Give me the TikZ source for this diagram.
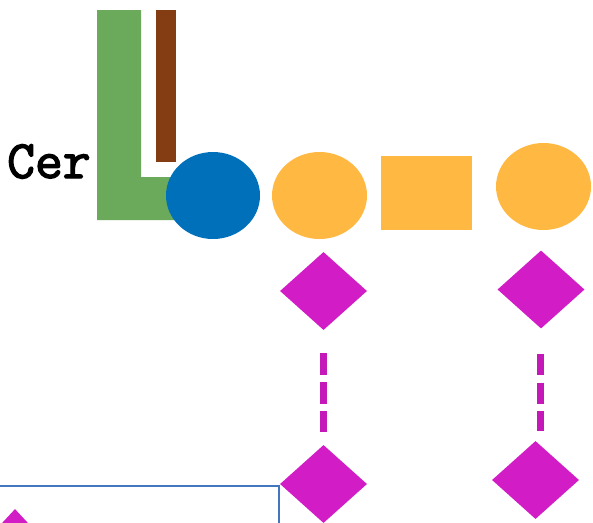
\documentclass[tikz,border=0pt]{standalone}
\usepackage{fontspec}
\newfontfamily\cerfont[FakeBold=2.6]{Latin Modern Mono}
\usetikzlibrary{shapes.geometric}
\definecolor{glcgreen}{RGB}{106,170,90}
\definecolor{glcbrown}{RGB}{132,60,18}
\definecolor{glcblue}{RGB}{0,112,186}
\definecolor{glcorange}{RGB}{255,185,66}
\definecolor{glcmagenta}{RGB}{210,28,198}
\definecolor{linkmagenta}{RGB}{196,24,184}
\definecolor{framblue}{RGB}{66,118,190}
\tikzset{
  sugar/.style={ellipse, fill=glcorange, draw=none, inner sep=0pt,
    minimum width=95pt, minimum height=87pt},
  hexnac/.style={rectangle, fill=glcorange, draw=none, inner sep=0pt,
    minimum width=91pt, minimum height=74pt},
  glc/.style={ellipse, fill=glcblue, draw=none, inner sep=0pt,
    minimum width=94pt, minimum height=87pt},
  sia/.style={diamond, fill=glcmagenta, draw=none, inner sep=0pt,
    minimum width=87pt, minimum height=78pt},
  link/.style={draw=linkmagenta, line width=7pt, line cap=butt,
    dash pattern=on 21.5pt off 7.3pt},
}
\begin{document}
\begin{tikzpicture}[x=1pt, y=-1pt]
\useasboundingbox (0,0) rectangle (593,522);
\clip (0,0) rectangle (593,522);

% ceramide tails
\fill[glcgreen] (97,10) -- (141,10) -- (141,177) -- (185,177) -- (185,220) -- (97,220) -- cycle;
\fill[glcbrown] (156,10) rectangle (176,162);
\node[anchor=base west, inner sep=0pt, font=\cerfont\fontsize{54}{54}\selectfont] (cer) at (7,178) {Cer};

% glycan chain
\node[glc] (glc) at (213,195.5) {};
\node[sugar] (gal1) at (319.5,195.5) {};
\node[hexnac] (nac) at (426.5,193) {};
\node[sugar] (gal2) at (543.5,186.5) {};

% sialic acids
\node[sia] (s1) at (323.5,291) {};
\node[sia] (s2) at (541,289.5) {};
\node[sia] (s3) at (323.5,484) {};
\node[sia] (s4) at (535.5,480) {};

\draw[link, shorten <=23pt, shorten >=13pt] (s1.south) -- (s1.south |- s3.north);
\draw[link, shorten <=25pt, shorten >=10pt] ([xshift=-0.5pt]s2.south) -- ([xshift=-0.5pt]s2.south |- s4.north);

% legend frame
\draw[framblue, line width=1.6pt] (-5,486) rectangle (279,540);
\node[sia, minimum width=52pt, minimum height=56pt] (key) at (15,537) {};
\end{tikzpicture}
\end{document}
